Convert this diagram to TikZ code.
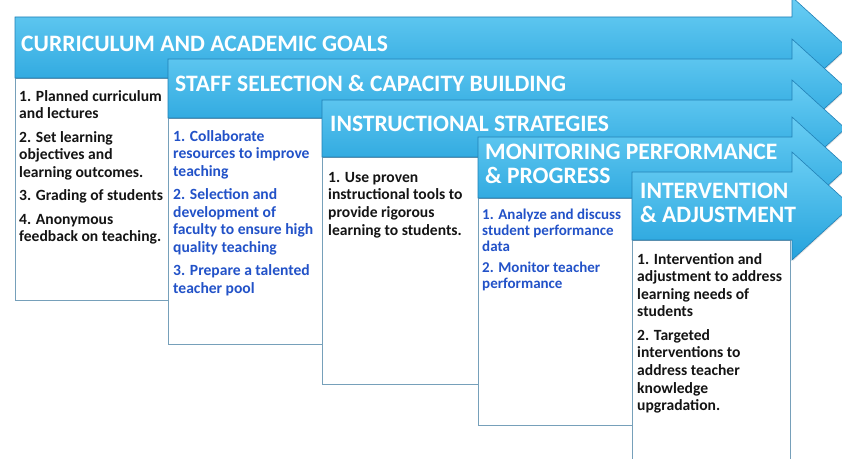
\documentclass[tikz,border=0pt]{standalone}
\usepackage{fontspec}
\setmainfont{Carlito}
\usetikzlibrary{shadows}

\definecolor{barTop}{RGB}{106,206,244}
\definecolor{barBot}{RGB}{36,162,220}
\definecolor{barEdge}{RGB}{32,128,182}
\definecolor{boxLine}{RGB}{118,160,186}
\definecolor{itemBlue}{RGB}{34,82,200}
\definecolor{itemBlack}{RGB}{20,20,20}

\begin{document}
\begin{tikzpicture}[x=0.03cm, y=-0.03cm,
  bar/.style={top color=barTop, bottom color=barBot, draw=barEdge, line width=0.5pt,
    drop shadow={opacity=0.25, shadow xshift=0.8pt, shadow yshift=-0.8pt}},
  panel/.style={fill=white, draw=boxLine, line width=0.8pt},
  head/.style={anchor=west, inner sep=0pt, text=white, align=left,
    font=\bfseries\fontsize{20.1}{20.5}\selectfont},
  items/.style={anchor=north west, inner sep=0pt, align=left,
    font=\bfseries\fontsize{13.3}{15}\selectfont},
]
  \useasboundingbox (0,0) rectangle (842,459);

  % white panels below the arrows (left/top/right/bottom)
  \foreach \l/\t/\r/\b in {15/78/168/300, 168/118/322/344, 322/157/478/384,
                           478/198/632/425, 632/240/790/472}
    \draw[panel] (\l,\t) rectangle (\r,\b);

  % the five arrows (left/top/bottom), later ones on top
  \foreach \l/\t/\b in {15/17/78, 168/59/118, 322/100/157, 478/137/198, 632/172/240} {
    \pgfmathsetmacro{\m}{(\t+\b)/2}
    \pgfmathsetmacro{\h}{(\b-\t)/2+20}
    \draw[bar] (\l,\t) -- (792,\t) -- (792,\t-20) -- (792+1.1*\h,\m)
      -- (792,\b+20) -- (792,\b) -- (\l,\b) -- cycle;
  }

  % arrow titles
  \node[head] (hdA) at (21,44)  {CURRICULUM AND ACADEMIC GOALS};
  \node[head] (hdB) at (175,83) {STAFF SELECTION \& CAPACITY BUILDING};
  \node[head] (hdC) at (330,124) {INSTRUCTIONAL STRATEGIES};
  \node[head] (hdD) at (485,164) {MONITORING PERFORMANCE\\\& PROGRESS};
  \node[head] (hdE) at (640,203) {INTERVENTION\\\& ADJUSTMENT};

  % panel texts
  \node[items, text=itemBlack] (itA) at (19,90)
    {1. Planned curriculum\\and lectures\\[5pt]
     2. Set learning\\objectives and\\learning outcomes.\\[5pt]
     3. Grading of students\\[5pt]
     4. Anonymous\\feedback on teaching.};
  \node[items, text=itemBlue] (itB) at (173,130)
    {1. Collaborate\\resources to improve\\teaching\\[5pt]
     2. Selection and\\development of\\faculty to ensure high\\quality teaching\\[5pt]
     3. Prepare a talented\\teacher pool};
  \node[items, text=itemBlack] (itC) at (328,172)
    {1. Use proven\\instructional tools to\\provide rigorous\\learning to students.};
  \node[items, text=itemBlue, font=\bfseries\fontsize{12.8}{13.4}\selectfont] (itD) at (482,209)
    {1. Analyze and discuss\\student performance\\data\\[5pt]
     2. Monitor teacher\\performance};
  \node[items, text=itemBlack] (itE) at (637,253)
    {1. Intervention and\\adjustment to address\\learning needs of\\students\\[5pt]
     2. Targeted\\interventions to\\address teacher\\knowledge\\upgradation.};
\end{tikzpicture}
\end{document}
